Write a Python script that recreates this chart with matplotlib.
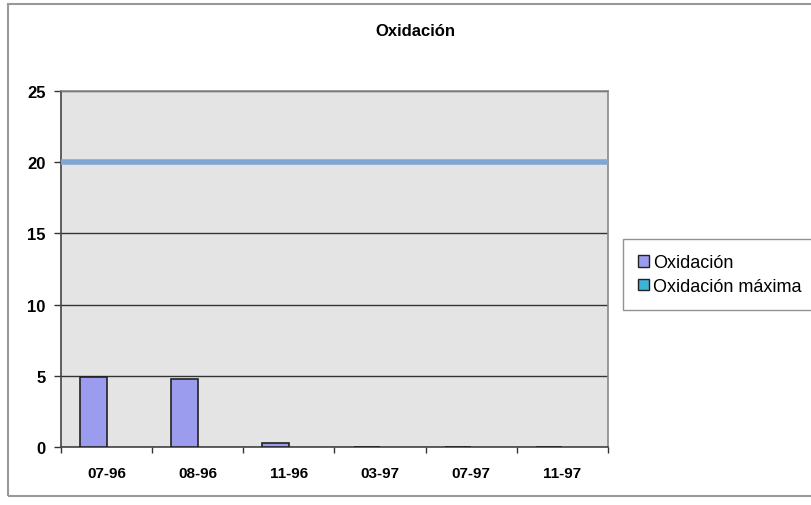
import matplotlib

matplotlib.use("Agg")

import matplotlib.pyplot as plt
import numpy as np
from matplotlib.patches import Patch, Rectangle

plt.rcParams["font.family"] = ["Liberation Sans", "DejaVu Sans"]

months = ["07-96", "08-96", "11-96", "03-97", "07-97", "11-97"]
oxidacion = [4.9, 4.75, 0.3, 0.0, 0.0, 0.0]
oxidacion_max = 20
y_ticks = [0, 5, 10, 15, 20, 25]

bar_color = "#9c9cee"
line_color = "#7fa7d3"
max_patch_color = "#3fb3d6"

fig = plt.figure(figsize=(8.11, 5.06), dpi=100)
ax = fig.add_axes([61 / 811, 1 - 448 / 506, (608 - 61) / 811, (448 - 92) / 506])
ax.set_facecolor("#e4e4e4")

x = np.arange(len(months))
ax.bar(x - 0.145, oxidacion, width=0.29, color=bar_color, edgecolor="#222222",
       linewidth=1.2, zorder=3)
ax.hlines(oxidacion_max, -0.5, len(months) - 0.5, color=line_color, linewidth=4, zorder=4)

ax.set_xlim(-0.5, len(months) - 0.5)
ax.set_ylim(0, 25)
ax.set_yticks(y_ticks)
ax.set_yticklabels([str(v) for v in y_ticks], fontsize=12, fontweight="bold")
ax.set_xticks(x)
ax.set_xticklabels(months, fontsize=11, fontweight="bold")
ax.set_xticks(np.arange(len(months) + 1) - 0.5, minor=True)
ax.tick_params(axis="x", which="major", length=0, pad=14)
ax.tick_params(axis="x", which="minor", length=4, width=1, color="#333333")
ax.tick_params(axis="y", length=5, width=1, color="#333333", pad=6)
ax.grid(axis="y", color="#333333", linewidth=1, zorder=1)
ax.set_axisbelow(True)
for side in ["left", "bottom", "right", "top"]:
    ax.spines[side].set_color("#444444")
    ax.spines[side].set_linewidth(1.2)
ax.spines["right"].set_color("#888888")
ax.spines["top"].set_color("#888888")

fig.text(415 / 811, 1 - 31 / 506, "Oxidación", ha="center", va="center",
         fontsize=12, fontweight="bold")

handles = [
    Patch(facecolor=bar_color, edgecolor="#222222", linewidth=1),
    Patch(facecolor=max_patch_color, edgecolor="#222222", linewidth=1),
]
fig.legend(handles, ["Oxidación", "Oxidación máxima"], loc="upper left",
           bbox_to_anchor=(623 / 811, 1 - 240 / 506), fontsize=13,
           frameon=True, fancybox=False, edgecolor="#777777",
           handlelength=0.6, handleheight=0.6, handletextpad=0.2,
           borderpad=0.85, labelspacing=0.35, borderaxespad=0)

fig.patches.append(Rectangle((8 / 811, 1 - 497 / 506), 1.0, 492 / 506,
                             transform=fig.transFigure, fill=False,
                             edgecolor="#999999", linewidth=1.5))

fig.savefig("out.png", dpi=100)
